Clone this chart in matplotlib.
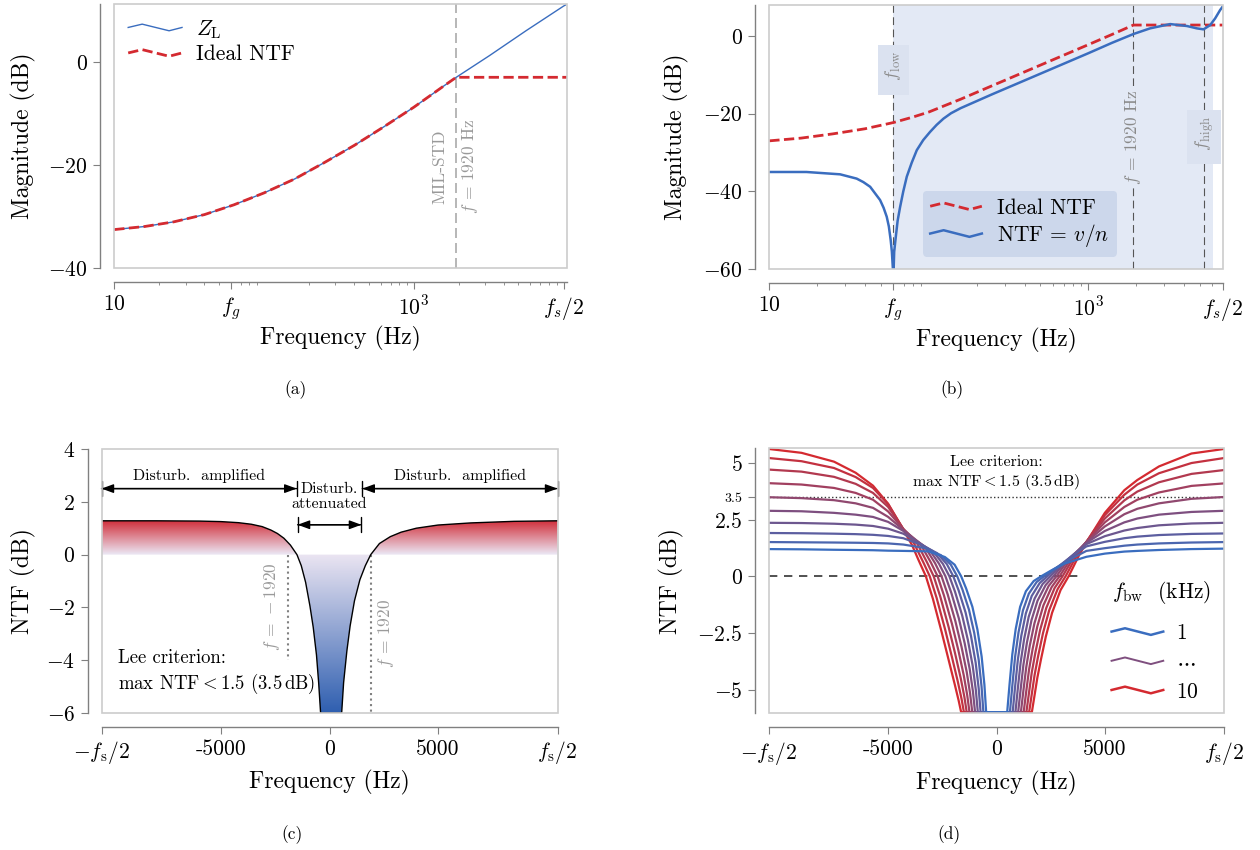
import numpy as np
import matplotlib
matplotlib.use('Agg')
import matplotlib.pyplot as plt
from matplotlib.legend_handler import HandlerLine2D
from matplotlib.lines import Line2D
from matplotlib.patches import Rectangle
from matplotlib.colors import LinearSegmentedColormap, TwoSlopeNorm
from matplotlib.ticker import LogLocator, NullFormatter

plt.rcParams['font.family'] = 'cmr10'
plt.rcParams['mathtext.fontset'] = 'cm'
plt.rcParams['axes.formatter.use_mathtext'] = True
plt.rcParams['axes.unicode_minus'] = False

# ---------------- data ----------------
# (a) load impedance and ideal NTF
a_freq = [10, 16, 25, 40, 63, 100, 160, 250, 400, 630, 1000, 1600, 1920, 3200, 5600, 10000, 10570]
a_zl = [-32.5, -31.9, -31.0, -29.6, -27.7, -25.4, -22.7, -19.6, -16.2, -12.6, -8.8, -4.6, -3.0, 1.2, 6.0, 10.8, 11.2]
a_ideal_freq = [10, 16, 25, 40, 63, 100, 160, 250, 400, 630, 1000, 1600, 1920, 10570]
a_ideal = [-32.5, -31.9, -31.0, -29.6, -27.7, -25.4, -22.7, -19.6, -16.2, -12.6, -8.8, -4.6, -3.0, -3.0]

# (b) ideal NTF and achieved NTF
b_ideal_freq = [10, 15.8, 25.1, 39.8, 60, 79.4, 100, 158.5, 251, 398, 631, 1000, 1413, 1920, 7000]
b_ideal = [-27.0, -26.3, -25.2, -23.9, -22.3, -20.9, -19.6, -16.3, -12.8, -9.3, -5.8, -2.3, 0.35, 2.75, 2.75]
b_ntf_freq = [10, 17.1, 27.8, 35.3, 38.9, 42.9, 49.5, 52.1, 54.5, 56.2, 57.7, 58.7, 60, 60.7, 61.8, 63.8, 66.1,
              69.2, 72.8, 78.2, 84.1, 92.3, 101.9, 112, 123.6, 138, 158.5,
              251, 398, 631, 1000, 1413, 1920, 2443, 3266, 4159, 4797, 5284, 5821, 6252, 6714, 7000]
b_ntf = [-35.0, -35.0, -35.6, -36.7, -37.6, -38.8, -42.2, -44.2, -46.5, -49.0, -52.5, -55.5, -62.0, -55.5, -52.5, -47.5, -44.0,
         -40.0, -36.2, -32.6, -29.4, -26.8, -24.7, -22.9, -21.3, -19.9, -18.6,
         -15.0, -11.5, -8.0, -4.5, -1.8, 0.44, 1.9, 3.0, 2.5, 1.9, 1.64, 2.75, 4.47, 6.6, 7.6]

# (c) two-sided NTF
c_freq = [-10500, -8000, -6000, -5000, -4200, -3600, -3100, -2700, -2400, -2100, -1800, -1500, -1300, -1100, -900,
          -750, -600, -500, -410, 560, 650, 800, 950, 1150, 1400, 1650, 1900, 2300, 2800, 3300, 4000, 5000, 6500, 8500, 10500]
c_ntf = [1.28, 1.28, 1.27, 1.25, 1.21, 1.15, 1.06, 0.93, 0.80, 0.62, 0.36, 0.0, -0.42, -1.05, -1.95,
         -2.75, -3.8, -4.85, -6.0, -6.0, -4.85, -3.65, -2.70, -1.75, -0.95, -0.42, 0.0, 0.42, 0.68, 0.85, 1.0, 1.12, 1.20, 1.26, 1.28]

# (d) NTF for bandwidths 1 ... 10 kHz
d_bw = [1, 2, 3, 4, 5, 6, 7, 8, 9, 10]
d_freq = [
    [-10500, -9000, -7500, -6500, -5700, -5000, -4300, -3150, -2382, -1932, -1632, -1401, -1112, -881, -685, -558, -477,
     493, 603, 729, 886, 1090, 1357, 1718, 2063, 2513, 3141, 4150, 5000, 5900, 6500, 7500, 9000, 10500],
    [-10500, -9000, -7500, -6500, -5700, -5000, -4300, -3313, -2563, -2113, -1813, -1571, -1269, -1028, -822, -690, -605,
     620, 731, 858, 1016, 1222, 1491, 1856, 2204, 2654, 3400, 4150, 5000, 5900, 6500, 7500, 9000, 10500],
    [-10500, -9000, -7500, -6500, -5700, -5000, -4300, -3494, -2744, -2294, -1994, -1742, -1427, -1175, -961, -822, -734,
     746, 858, 986, 1146, 1354, 1625, 1993, 2345, 2795, 3470, 4150, 5000, 5900, 6500, 7500, 9000, 10500],
    [-10500, -9000, -7500, -6500, -5700, -5000, -4300, -3675, -2925, -2475, -2175, -1912, -1584, -1322, -1098, -954, -862,
     873, 986, 1115, 1276, 1486, 1760, 2130, 2485, 2935, 3550, 4150, 5000, 5900, 6500, 7500, 9000, 10500],
    [-10500, -9000, -7500, -6500, -5700, -5000, -4300, -3856, -3106, -2656, -2356, -2083, -1741, -1468, -1236, -1086, -990,
     999, 1113, 1243, 1406, 1617, 1894, 2268, 2626, 3076, 4150, 5000, 5900, 6500, 7500, 9000, 10500],
    [-10500, -9000, -7500, -6500, -5700, -5000, -4300, -3287, -2837, -2537, -2253, -1899, -1615, -1374, -1218, -1119,
     1126, 1241, 1372, 1536, 1750, 2029, 2406, 2767, 3217, 4150, 5000, 5900, 6500, 7500, 9000, 10500],
    [-10500, -9000, -7500, -6500, -5700, -5000, -4300, -3468, -3018, -2718, -2424, -2056, -1762, -1512, -1350, -1247,
     1253, 1369, 1501, 1667, 1882, 2163, 2544, 2908, 3358, 4150, 5000, 5900, 6500, 7500, 9000, 10500],
    [-10500, -9000, -7500, -6500, -5700, -5000, -4300, -3649, -3199, -2899, -2594, -2213, -1908, -1649, -1482, -1375,
     1379, 1496, 1629, 1796, 2013, 2297, 2681, 3048, 3498, 4150, 5000, 5900, 6500, 7500, 9000, 10500],
    [-10500, -9000, -7500, -6500, -5700, -5000, -4300, -3830, -3380, -3080, -2765, -2371, -2056, -1788, -1614, -1504,
     1506, 1624, 1758, 1927, 2146, 2432, 2819, 3189, 3639, 4150, 5000, 5900, 6500, 7500, 9000, 10500],
    [-10500, -9000, -7500, -6500, -5700, -5000, -4300, -3900, -3600, -3260, -2934, -2527, -2202, -1925, -1746, -1632,
     1632, 1751, 1887, 2057, 2277, 2566, 2956, 3330, 3780, 4150, 5000, 5900, 6500, 7500, 9000, 10500],
]
d_ntf = [
    [1.20, 1.19, 1.17, 1.16, 1.15, 1.13, 1.12, 1.10, 0.85, 0.51, 0, -0.54, -1.35, -2.35, -3.55, -4.79, -6,
     -6, -4.76, -3.45, -2.33, -1.35, -0.66, -0.21, 0, 0.25, 0.56, 0.86, 1.00, 1.09, 1.12, 1.16, 1.20, 1.22],
    [1.51, 1.50, 1.49, 1.48, 1.47, 1.45, 1.40, 1.25, 0.93, 0.52, 0, -0.59, -1.48, -2.50, -3.69, -4.87, -6,
     -6, -4.82, -3.56, -2.48, -1.50, -0.77, -0.25, 0, 0.32, 0.75, 1.12, 1.24, 1.35, 1.40, 1.45, 1.49, 1.51],
    [1.91, 1.90, 1.88, 1.86, 1.83, 1.78, 1.68, 1.40, 1.02, 0.54, 0, -0.64, -1.60, -2.65, -3.82, -4.95, -6,
     -6, -4.88, -3.68, -2.62, -1.64, -0.87, -0.30, 0, 0.39, 0.88, 1.32, 1.52, 1.68, 1.75, 1.82, 1.87, 1.89],
    [2.36, 2.35, 2.32, 2.28, 2.22, 2.10, 1.88, 1.52, 1.10, 0.55, 0, -0.69, -1.73, -2.81, -3.96, -5.02, -6,
     -6, -4.94, -3.79, -2.77, -1.79, -0.98, -0.34, 0, 0.46, 0.96, 1.42, 1.77, 2.02, 2.13, 2.25, 2.33, 2.36],
    [2.89, 2.87, 2.80, 2.72, 2.62, 2.40, 2.00, 1.68, 1.18, 0.56, 0, -0.74, -1.85, -2.96, -4.10, -5.10, -6,
     -6, -5.00, -3.90, -2.92, -1.93, -1.08, -0.39, 0, 0.53, 1.48, 2.00, 2.38, 2.55, 2.72, 2.84, 2.89],
    [3.49, 3.45, 3.36, 3.22, 3.02, 2.62, 2.05, 1.27, 0.58, 0, -0.80, -1.98, -3.11, -4.23, -5.18, -6,
     -6, -5.05, -4.02, -3.06, -2.08, -1.19, -0.43, 0, 0.60, 1.51, 2.20, 2.74, 2.98, 3.22, 3.42, 3.50],
    [4.11, 4.05, 3.90, 3.68, 3.38, 2.86, 2.08, 1.35, 0.59, 0, -0.85, -2.10, -3.26, -4.37, -5.26, -6,
     -6, -5.11, -4.13, -3.21, -2.22, -1.29, -0.48, 0, 0.66, 1.52, 2.38, 3.06, 3.38, 3.70, 3.99, 4.10],
    [4.71, 4.62, 4.39, 4.08, 3.68, 3.06, 2.09, 1.43, 0.60, 0, -0.90, -2.23, -3.42, -4.51, -5.33, -6,
     -6, -5.17, -4.24, -3.36, -2.37, -1.40, -0.52, 0, 0.73, 1.52, 2.55, 3.35, 3.74, 4.15, 4.52, 4.69],
    [5.22, 5.08, 4.78, 4.38, 3.90, 3.18, 2.08, 1.50, 0.62, 0, -0.95, -2.35, -3.57, -4.64, -5.41, -6,
     -6, -5.23, -4.36, -3.50, -2.51, -1.50, -0.57, 0, 0.80, 1.52, 2.70, 3.60, 4.05, 4.55, 5.00, 5.22],
    [5.62, 5.45, 5.06, 4.57, 4.00, 3.20, 2.06, 1.38, 0.72, 0, -1.00, -2.48, -3.72, -4.78, -5.49, -6,
     -6, -5.29, -4.47, -3.65, -2.66, -1.61, -0.61, 0, 0.87, 1.50, 2.80, 3.80, 4.25, 4.85, 5.42, 5.62],
]

BLUE = '#3a6dbf'
RED = '#d42a30'
SPAN = '#e3e9f5'


class ZigZag(HandlerLine2D):
    def create_artists(self, legend, orig_handle, xdescent, ydescent, width, height, fontsize, trans):
        x = np.array([0.0, 0.26, 0.76, 1.0]) * width - xdescent
        y0 = 0.5 * height - ydescent
        amp = 0.22 * height
        y = np.array([y0, y0 + amp, y0 - amp, y0])
        line = Line2D(x, y)
        self.update_prop(line, orig_handle, legend)
        line.set_transform(trans)
        return [line]


def style(ax):
    for s in ('top', 'right'):
        ax.spines[s].set_visible(False)
    for s in ('left', 'bottom'):
        ax.spines[s].set_position(('outward', 10))
        ax.spines[s].set_color('#808080')
        ax.spines[s].set_linewidth(1.0)
    ax.tick_params(which='both', direction='out', color='#808080', labelsize=15.5)
    ax.tick_params(which='major', length=5, pad=4)
    ax.tick_params(which='minor', length=2.5)
    ax.add_patch(Rectangle((0, 0), 1, 1, transform=ax.transAxes, fill=False,
                           edgecolor='#cccccc', lw=1.2, clip_on=False, zorder=5))


fig = plt.figure(figsize=(12.6, 8.5), dpi=100)
W, H = 1260, 850
ax_a = fig.add_axes([114.2 / W, 1 - 268.3 / H, 453 / W, 264.3 / H])
ax_b = fig.add_axes([769.3 / W, 1 - 269.3 / H, 453.7 / W, 264.3 / H])
ax_c = fig.add_axes([101.5 / W, 1 - 713 / H, 456 / W, 264 / H])
ax_d = fig.add_axes([769 / W, 1 - 713.3 / H, 455 / W, 265 / H])

# ---------------- (a) ----------------
ax = ax_a
style(ax)
ax.plot(a_freq, a_zl, color=BLUE, lw=1.0, label=r'$Z_\mathrm{L}$')
ax.plot(a_ideal_freq, a_ideal, color=RED, lw=2.0, ls='--', label='Ideal NTF')
ax.axvline(1920, color='#aaaaaa', lw=1.2, dashes=(6, 3), zorder=1)
ax.text(1486, -20.4, 'MIL-STD', rotation=90, ha='center', va='center', color='#999999', fontsize=12.5)
ax.text(2372, -20.2, r'$f\,=\,1920$ Hz', rotation=90, ha='center', va='center', color='#999999', fontsize=12.5)
ax.set_xscale('log')
ax.set_xlim(10, 10570)
ax.set_ylim(-40, 11.2)
ax.set_xticks([10, 60, 1000, 10000])
ax.set_xticklabels(['$10$', '$f_g$', '$10^3$', '$f_s/2$'])
ax.xaxis.set_minor_locator(LogLocator(base=10, subs=np.arange(2, 10)))
ax.xaxis.set_minor_formatter(NullFormatter())
ax.set_yticks([-40, -20, 0])
ax.set_yticklabels(['$-40$', '$-20$', '$0$'])
ax.set_xlabel('Frequency (Hz)', fontsize=17)
ax.set_ylabel('Magnitude (dB)', fontsize=17)
ax.xaxis.set_label_coords(0.5, -0.219)
ax.yaxis.set_label_coords(-0.173, 0.5)
ax.legend(handler_map={Line2D: ZigZag()}, loc='upper left', frameon=False, fontsize=15.5,
          handlelength=2.5, handletextpad=0.65, labelspacing=0.2, borderaxespad=0.25)

# ---------------- (b) ----------------
ax = ax_b
style(ax)
ax.axvspan(60, 6050, color=SPAN, lw=0, zorder=0)
for xv in (60, 1920, 5350):
    ax.axvline(xv, color='#555555', lw=0.8, dashes=(7, 4), zorder=1)
l_ideal, = ax.plot(b_ideal_freq, b_ideal, color=RED, lw=2.0, ls='--', label='Ideal NTF', zorder=3)
l_ntf, = ax.plot(b_ntf_freq, b_ntf, color=BLUE, lw=1.8, label='NTF = $v/n$', zorder=3)
ax.text(60, -8.8, r'$\;\;f_\mathrm{low}\;\;$', rotation=90, ha='center', va='center', color='#8a8a8a', fontsize=13,
        bbox=dict(facecolor='#dbe2f0', edgecolor='none', pad=4), zorder=2)
ax.text(1920, -26, r'$f\,=\,1920$ Hz', rotation=90, ha='center', va='center', color='#8a8a8a', fontsize=12.5,
        bbox=dict(facecolor=SPAN, edgecolor='none', pad=2), zorder=2)
ax.text(5350, -26, r'$\;\;f_\mathrm{high}\;\;$', rotation=90, ha='center', va='center', color='#8a8a8a', fontsize=13,
        bbox=dict(facecolor='#dbe2f0', edgecolor='none', pad=4), zorder=2)
ax.set_xscale('log')
ax.set_xlim(10, 7000)
ax.set_ylim(-60, 7.9)
ax.set_xticks([10, 60, 1000, 7000])
ax.set_xticklabels(['$10$', '$f_g$', '$10^3$', '$f_s/2$'])
ax.xaxis.set_minor_locator(LogLocator(base=10, subs=np.arange(2, 10)))
ax.xaxis.set_minor_formatter(NullFormatter())
ax.set_yticks([-60, -40, -20, 0])
ax.set_yticklabels(['$-60$', '$-40$', '$-20$', '$0$'])
ax.set_xlabel('Frequency (Hz)', fontsize=17)
ax.set_ylabel('Magnitude (dB)', fontsize=17)
ax.xaxis.set_label_coords(0.5, -0.222)
ax.yaxis.set_label_coords(-0.177, 0.5)
ax.legend(handles=[l_ideal, l_ntf], handler_map={Line2D: ZigZag()}, loc='lower left',
          bbox_to_anchor=(0.338, 0.048), borderaxespad=0, frameon=True, fancybox=True,
          facecolor='#ccd7eb', edgecolor='none', framealpha=1, fontsize=15.5,
          handlelength=2.4, handletextpad=0.7, labelspacing=0.2, borderpad=0.35)

# ---------------- (c) ----------------
ax = ax_c
style(ax)
fill = ax.fill_between(c_freq, 0, c_ntf, facecolor='none', edgecolor='none')
cmap = LinearSegmentedColormap.from_list('ntf', ['#2f5fb0', '#ebe5f2', '#cf2430'])
grad = np.linspace(-6, 1.35, 400).reshape(-1, 1)
im = ax.imshow(grad, extent=(-10500, 10500, -6, 1.35), origin='lower', aspect='auto', cmap=cmap,
               norm=TwoSlopeNorm(vcenter=0, vmin=-6, vmax=1.35), interpolation='bilinear', zorder=1)
im.set_clip_path(fill.get_paths()[0], transform=ax.transData)
ax.plot(c_freq, c_ntf, color='black', lw=1.0, zorder=3)
ax.plot([-1920, -1920], [0, -4], color='#808080', ls=':', lw=1.5, zorder=2)
ax.plot([1920, 1920], [0, -6], color='#808080', ls=':', lw=1.5, zorder=2)
ax.text(-2666, -1.99, r'$f\,=\,-1920$', rotation=90, ha='center', va='center', color='#9a9a9a', fontsize=12.5)
ax.text(2603, -2.99, r'$f\,=\,1920$', rotation=90, ha='center', va='center', color='#9a9a9a', fontsize=12.5)


def span_arrow(ax, x0, x1, y):
    ax.annotate('', xy=(x1, y), xytext=(x0, y),
                arrowprops=dict(arrowstyle='<|-|>,head_length=0.6,head_width=0.22', color='black', lw=1.0,
                                shrinkA=0, shrinkB=0, mutation_scale=12))
    ax.annotate('', xy=(x1, y), xytext=(x0, y),
                arrowprops=dict(arrowstyle='|-|,widthA=0.45,widthB=0.45', color='black', lw=1.0,
                                shrinkA=0, shrinkB=0, mutation_scale=12))


span_arrow(ax, -10500, -1510, 2.5)
span_arrow(ax, 1510, 10500, 2.5)
span_arrow(ax, -1470, 1470, 1.13)
ax.text(-6000, 2.98, 'Disturb.  amplified', ha='center', va='center', fontsize=11.5)
ax.text(6000, 2.98, 'Disturb.  amplified', ha='center', va='center', fontsize=11.5)
ax.text(0, 2.2, 'Disturb.\nattenuated', ha='center', va='center', fontsize=11.5, linespacing=1.15)
ax.text(-9730, -4.47, 'Lee criterion:\nmax NTF$<$1.5 (3.5$\\,$dB)', ha='left', va='center', fontsize=13.5,
        linespacing=1.25)
ax.set_xlim(-10500, 10500)
ax.set_ylim(-6, 4)
ax.set_xticks([-10500, -5000, 0, 5000, 10500])
ax.set_xticklabels([r'$-f_\mathrm{s}/2$', '-5000', '0', '5000', r'$f_\mathrm{s}/2$'])
ax.set_yticks([-6, -4, -2, 0, 2, 4])
ax.set_yticklabels(['$-6$', '$-4$', '$-2$', '$0$', '$2$', '$4$'])
ax.set_xlabel('Frequency (Hz)', fontsize=17)
ax.set_ylabel('NTF (dB)', fontsize=17)
ax.xaxis.set_label_coords(0.5, -0.215)
ax.yaxis.set_label_coords(-0.144, 0.5)

# ---------------- (d) ----------------
ax = ax_d
style(ax)
dcmap = LinearSegmentedColormap.from_list('bw', [BLUE, RED])
for k in range(len(d_bw) - 1, -1, -1):
    ax.plot(d_freq[k], d_ntf[k], color=dcmap(k / (len(d_bw) - 1)), lw=1.6, zorder=3)
ax.plot([-10500, 3800], [0, 0], color='#333333', lw=1.2, dashes=(5, 4), zorder=2)
ax.plot([-10500, 10500], [3.5, 3.5], color='#333333', lw=1.0, ls=':', zorder=2)
ax.text(0, 4.54, 'Lee criterion:\nmax NTF$<$1.5 (3.5$\\,$dB)', ha='center', va='center', fontsize=11.5,
        linespacing=1.25)
ax.set_xlim(-10500, 10500)
ax.set_ylim(-6.05, 5.65)
ax.set_xticks([-10500, -5000, 0, 5000, 10500])
ax.set_xticklabels([r'$-f_\mathrm{s}/2$', '-5000', '0', '5000', r'$f_\mathrm{s}/2$'])
ax.set_yticks([-5, -2.5, 0, 2.5, 3.5, 5])
ax.set_yticklabels(['$-5$', '$-2.5$', '$0$', '$2.5$', '$3.5$', '$5$'])
ax.get_yticklabels()[4].set_fontsize(10)
ax.set_xlabel('Frequency (Hz)', fontsize=17)
ax.set_ylabel('NTF (dB)', fontsize=17)
ax.xaxis.set_label_coords(0.5, -0.219)
ax.yaxis.set_label_coords(-0.186, 0.5)
ax.text(0.753, 0.454, r'$f_\mathrm{bw}$  (kHz)', transform=ax.transAxes, ha='left', va='center', fontsize=15.5)
h_leg = [Line2D([], [], color=dcmap(0.0), lw=1.8),
         Line2D([], [], color=dcmap(0.45), lw=1.4),
         Line2D([], [], color=dcmap(1.0), lw=1.8)]
ax.legend(handles=h_leg, labels=['$1$', r'$\cdots$', '$10$'], handler_map={Line2D: ZigZag()},
          fontsize=15.5, loc='upper left', bbox_to_anchor=(0.734, 0.371), borderaxespad=0, frameon=False,
          handlelength=2.4, handletextpad=0.6, labelspacing=0.45)

# captions
fig.text(296 / W, 1 - 390 / H, '(a)', ha='center', va='center', fontsize=12.5)
fig.text(952 / W, 1 - 390 / H, '(b)', ha='center', va='center', fontsize=12.5)
fig.text(292 / W, 1 - 835 / H, '(c)', ha='center', va='center', fontsize=12.5)
fig.text(949 / W, 1 - 835 / H, '(d)', ha='center', va='center', fontsize=12.5)

fig.savefig('out.png', dpi=100)
